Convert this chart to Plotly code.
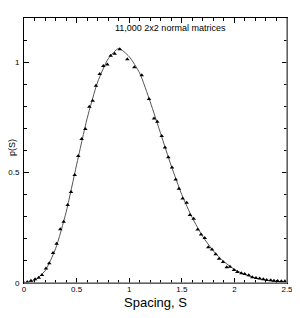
import plotly.graph_objects as go

# Histogram points (triangles)
pt_s = [0.000, 0.031, 0.066, 0.105, 0.140, 0.171, 0.209, 0.240, 0.276, 0.310,
        0.345, 0.377, 0.415, 0.447, 0.482, 0.516, 0.548, 0.583, 0.621, 0.653,
        0.684, 0.720, 0.754, 0.792, 0.824, 0.862, 0.910, 0.982, 1.049, 1.119,
        1.188, 1.236, 1.267, 1.309, 1.340, 1.372, 1.407, 1.442, 1.473, 1.508,
        1.546, 1.578, 1.613, 1.651, 1.683, 1.718, 1.752, 1.787, 1.822, 1.854,
        1.892, 1.927, 1.958, 1.996, 2.028, 2.066, 2.098, 2.136, 2.170, 2.205,
        2.240, 2.275, 2.307, 2.345, 2.376, 2.411, 2.446, 2.480]
pt_p = [0.000, 0.005, 0.010, 0.017, 0.024, 0.036, 0.066, 0.089, 0.136, 0.178,
        0.243, 0.277, 0.353, 0.412, 0.489, 0.575, 0.652, 0.697, 0.798, 0.825,
        0.893, 0.946, 0.983, 0.990, 1.029, 1.038, 1.059, 1.013, 0.977, 0.941,
        0.833, 0.745, 0.730, 0.666, 0.614, 0.569, 0.523, 0.469, 0.427, 0.383,
        0.363, 0.308, 0.291, 0.242, 0.220, 0.204, 0.162, 0.152, 0.130, 0.110,
        0.095, 0.071, 0.074, 0.059, 0.050, 0.044, 0.041, 0.035, 0.026, 0.023,
        0.020, 0.017, 0.014, 0.012, 0.010, 0.009, 0.008, 0.008]

# Smooth theoretical curve
cv_s = [0.0, 0.1, 0.2, 0.3, 0.4, 0.5, 0.6, 0.7, 0.8, 0.9, 1.0, 1.1, 1.2, 1.3,
        1.4, 1.5, 1.6, 1.7, 1.8, 1.9, 2.0, 2.1, 2.2, 2.3, 2.4, 2.5]
cv_p = [0.0, 0.012, 0.055, 0.155, 0.32, 0.535, 0.745, 0.91, 1.015, 1.062,
        1.025, 0.95, 0.82, 0.675, 0.53, 0.40, 0.295, 0.21, 0.145, 0.097,
        0.062, 0.038, 0.023, 0.013, 0.007, 0.004]

x_ticks = [0, 0.5, 1, 1.5, 2, 2.5]
x_ticklabels = ["0", "0.5", "1", "1.5", "2", "2.5"]
y_ticks = [0, 0.5, 1]
y_ticklabels = ["0", "0.5", "1"]

FONT = "Liberation Sans, Arial, Helvetica, sans-serif"

fig = go.Figure()
fig.add_trace(go.Scatter(x=cv_s, y=cv_p, mode="lines",
                         line=dict(color="#555555", width=1, shape="spline", smoothing=0.6),
                         hoverinfo="skip"))
fig.add_trace(go.Scatter(x=pt_s, y=pt_p, mode="markers",
                         marker=dict(symbol="triangle-up", size=4, color="black")))

axis_common = dict(ticks="inside", ticklen=5, tickcolor="black", tickwidth=1,
                   showline=True, linecolor="black", linewidth=1, mirror="allticks",
                   showgrid=False, zeroline=False, automargin=False,
                   tickfont=dict(size=8))

# the page body adds an 8px offset; margins compensate so the plot box sits
# at x 24..287, y 18..283 in the window
fig.update_layout(
    template="none",
    width=300, height=318,
    margin=dict(l=16, r=21, t=10, b=43),
    paper_bgcolor="white", plot_bgcolor="white",
    showlegend=False,
    font=dict(family=FONT, size=9, color="black"),
    xaxis=dict(range=[0, 2.5], tickvals=x_ticks, ticktext=x_ticklabels,
               ticklabelstandoff=-2,
               minor=dict(dtick=0.1, ticks="inside", ticklen=3, tickcolor="black", showgrid=False),
               **axis_common),
    yaxis=dict(range=[0, 1.2], tickvals=y_ticks, ticktext=y_ticklabels,
               ticklabelstandoff=2,
               minor=dict(dtick=0.1, ticks="inside", ticklen=3, tickcolor="black", showgrid=False),
               **axis_common),
)

# gray bottom/right frame edges as in the reference
fig.add_shape(type="line", xref="paper", yref="paper", x0=0, x1=1, y0=0, y1=0,
              line=dict(color="#808080", width=1.5))
fig.add_shape(type="line", xref="paper", yref="paper", x0=1, x1=1, y0=0, y1=1,
              line=dict(color="#808080", width=1.5))

fig.add_annotation(x=1.39, y=1.154, xref="x", yref="y", text="11,000 2x2 normal matrices",
                   showarrow=False, font=dict(family=FONT, size=9, color="black"))
fig.add_annotation(x=-0.045, y=0.51, xref="paper", yref="paper", text="p(S)", textangle=-90,
                   showarrow=False, xanchor="center", yanchor="middle",
                   font=dict(family=FONT, size=9, color="black"))
fig.add_annotation(x=0.5, y=-0.072, xref="paper", yref="paper", text="Spacing, S",
                   showarrow=False, yanchor="middle",
                   font=dict(family=FONT, size=13, color="black"))

fig.write_html("out.html")
